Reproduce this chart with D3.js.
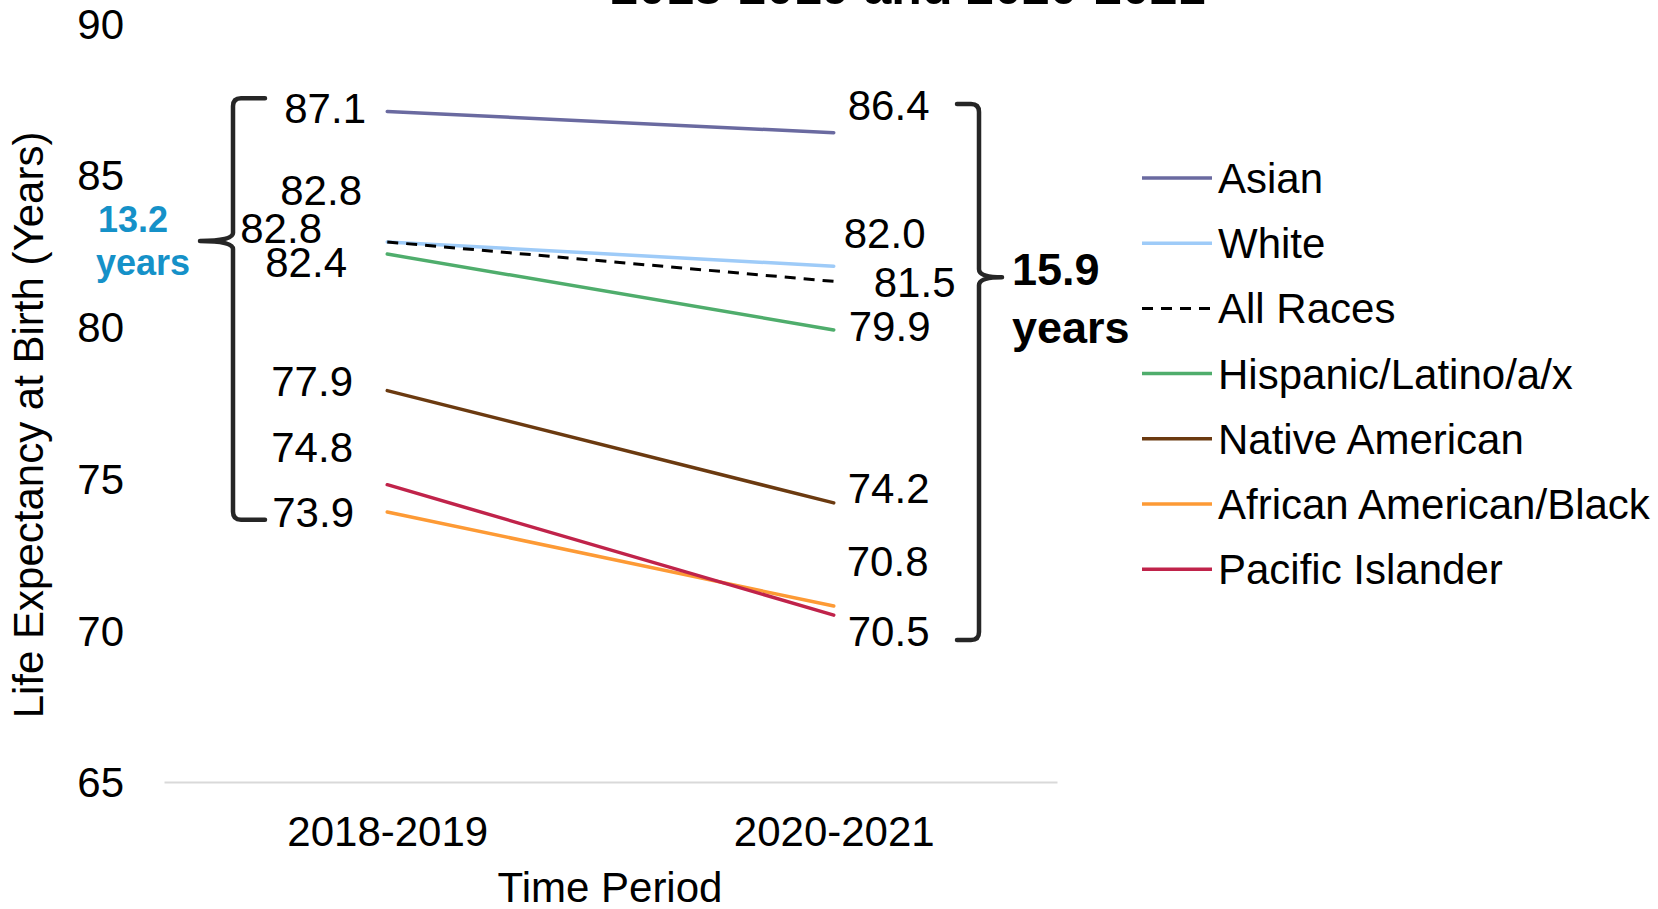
<!DOCTYPE html>
<html>
<head>
<meta charset="utf-8">
<script src="https://cdn.jsdelivr.net/npm/d3@7"></script>
<style>
  body { margin: 0; background: #fff; }
  svg { display: block; font-family: "Liberation Sans", Arial, sans-serif; }
</style>
</head>
<body>
<svg id="chart" width="1658" height="909"></svg>
<script>
// chart data
const periods = ["2018-2019", "2020-2021"];
const groups = ["Asian", "White", "All Races", "Hispanic/Latino/a/x",
  "Native American", "African American/Black", "Pacific Islander"];
const values1819 = [87.1, 82.8, 82.8, 82.4, 77.9, 73.9, 74.8];
const values2021 = [86.4, 82.0, 81.5, 79.9, 74.2, 70.8, 70.5];
const yTicks = [65, 70, 75, 80, 85, 90];

// styling, kept apart from the values
const colors = ["#6a6aa0", "#9ecbf8", "#000000", "#4fad6c", "#6b3a10", "#fd9a35", "#c0234a"];
const dashed = [false, false, true, false, false, false, false];
// label nudges (dx, dy) from each point, to keep labels apart like the original
const nudgeLeft = [[-101, -3], [-105, -52], [-145, -14], [-120, 8], [-114, -10], [-113, 0], [-114, -38]];
const nudgeRight = [[16, -28], [12, -33], [42, 1], [17, -4], [16, -15], [15, -45], [16, 16]];

const svg = d3.select("#chart");
const fontSize = 42;

// scales
const x = d3.scalePoint().domain(periods).range([164, 1057]).padding(0.5);
const y = d3.scaleLinear().domain([65, 90]).range([782, 23.5]);

// title (only its bottom edge shows in the frame)
svg.append("text")
  .attr("x", 908).attr("y", 4)
  .attr("text-anchor", "middle")
  .style("font-size", "50px").style("font-weight", "bold")
  .text("2018-2019 and 2020-2021");

// y axis: labels only
let yAxis = svg.append("g")
  .attr("transform", "translate(127,0)")
  .call(d3.axisLeft(y).tickValues(yTicks).tickSize(0).tickPadding(3));
yAxis.select(".domain").remove();
yAxis.selectAll("text")
  .attr("dy", "0.35em")
  .style("font-size", fontSize + "px")
  .style("font-family", "inherit")
  .attr("fill", "#000");

// x axis: light baseline and period labels
let xAxis = svg.append("g")
  .attr("transform", `translate(0,${y(65)})`)
  .call(d3.axisBottom(x).tickSize(0).tickSizeOuter(0).tickPadding(34));
xAxis.select(".domain").attr("stroke", "#d9d9d9").attr("stroke-width", 2);
xAxis.selectAll("text")
  .style("font-size", fontSize + "px")
  .style("font-family", "inherit")
  .attr("fill", "#000");

// axis titles
svg.append("text")
  .attr("transform", "translate(43,425) rotate(-90)")
  .attr("text-anchor", "middle")
  .style("font-size", fontSize + "px")
  .text("Life Expectancy at Birth (Years)");

svg.append("text")
  .attr("x", 610).attr("y", 902)
  .attr("text-anchor", "middle")
  .style("font-size", fontSize + "px")
  .text("Time Period");

// series
let series = groups.map((g, i) => ({
  name: g,
  values: [values1819[i], values2021[i]],
  color: colors[i],
  dashed: dashed[i],
  nudge: [nudgeLeft[i], nudgeRight[i]]
}));

let line = d3.line()
  .x((d, i) => x(periods[i]))
  .y(d => y(d));

// draw the dashed one last so it sits on top
let order = series.slice().sort((a, b) => a.dashed - b.dashed);
svg.append("g").selectAll("path")
  .data(order)
  .join("path")
  .attr("d", d => line(d.values))
  .attr("fill", "none")
  .attr("stroke", d => d.color)
  .attr("stroke-width", d => d.dashed ? 3 : 3.5)
  .attr("stroke-linecap", d => d.dashed ? "butt" : "round")
  .attr("stroke-dasharray", d => d.dashed ? "11,8" : null);

// data labels
let labels = [];
series.forEach(s => {
  s.values.forEach((v, i) => {
    labels.push({ v: v, px: x(periods[i]), py: y(v), nudge: s.nudge[i] });
  });
});
svg.append("g").selectAll("text")
  .data(labels)
  .join("text")
  .attr("x", d => d.px + d.nudge[0] - 2)
  .attr("y", d => d.py + d.nudge[1] + 15)
  .style("font-size", fontSize + "px")
  .text(d => d3.format(".1f")(d.v));

// gap braces
const braceColor = "#262626";
let gapLeft = d3.max(values1819) - d3.min(values1819);
let gapRight = d3.max(values2021) - d3.min(values2021);

function brace(xStem, xEnd, xTip, yTop, yMid, yBot) {
  // curly bracket: ends hook toward xEnd, point toward xTip
  let p = d3.path();
  let r = 8;
  let s = Math.sign(xEnd - xStem);
  let t = Math.sign(xTip - xStem);
  p.moveTo(xEnd, yTop);
  p.lineTo(xStem + s * r, yTop);
  p.quadraticCurveTo(xStem, yTop, xStem, yTop + r);
  p.lineTo(xStem, yMid - r);
  p.quadraticCurveTo(xStem, yMid, xTip, yMid);
  p.quadraticCurveTo(xStem, yMid, xStem, yMid + r);
  p.lineTo(xStem, yBot - r);
  p.quadraticCurveTo(xStem, yBot, xStem + s * r, yBot);
  p.lineTo(xEnd, yBot);
  return p.toString();
}

svg.append("path")
  .attr("d", brace(233, 265, 200, y(87.54), y(82.83), y(73.64)))
  .attr("fill", "none").attr("stroke", braceColor)
  .attr("stroke-width", 4.5).attr("stroke-linecap", "round").attr("stroke-linejoin", "round");

svg.append("path")
  .attr("d", brace(979, 957, 1002, y(87.35), y(81.64), y(69.68)))
  .attr("fill", "none").attr("stroke", braceColor)
  .attr("stroke-width", 4.5).attr("stroke-linecap", "round").attr("stroke-linejoin", "round");

// gap notes
let leftNote = svg.append("text")
  .attr("x", 98).attr("y", 232)
  .style("font-size", "36px").style("font-weight", "bold")
  .attr("fill", "#1591c8");
leftNote.append("tspan").text(d3.format(".1f")(gapLeft));
leftNote.append("tspan").attr("x", 96).attr("dy", 43).text("years");

let rightNote = svg.append("text")
  .attr("x", 1012).attr("y", 285)
  .style("font-size", "45px").style("font-weight", "bold")
  .attr("fill", "#000");
rightNote.append("tspan").text(d3.format(".1f")(gapRight));
rightNote.append("tspan").attr("x", 1012).attr("dy", 58).text("years");

// legend
let legend = svg.append("g")
  .selectAll("g")
  .data(series)
  .join("g")
  .attr("transform", (d, i) => `translate(1142,${178 + i * 65.2})`);

legend.append("line")
  .attr("x1", 0).attr("x2", 70)
  .attr("stroke", d => d.color)
  .attr("stroke-width", d => d.dashed ? 3 : 3.5)
  .attr("stroke-dasharray", d => d.dashed ? "11,8" : null);

legend.append("text")
  .attr("x", 76).attr("y", 15)
  .style("font-size", fontSize + "px")
  .text(d => d.name);
</script>
</body>
</html>
